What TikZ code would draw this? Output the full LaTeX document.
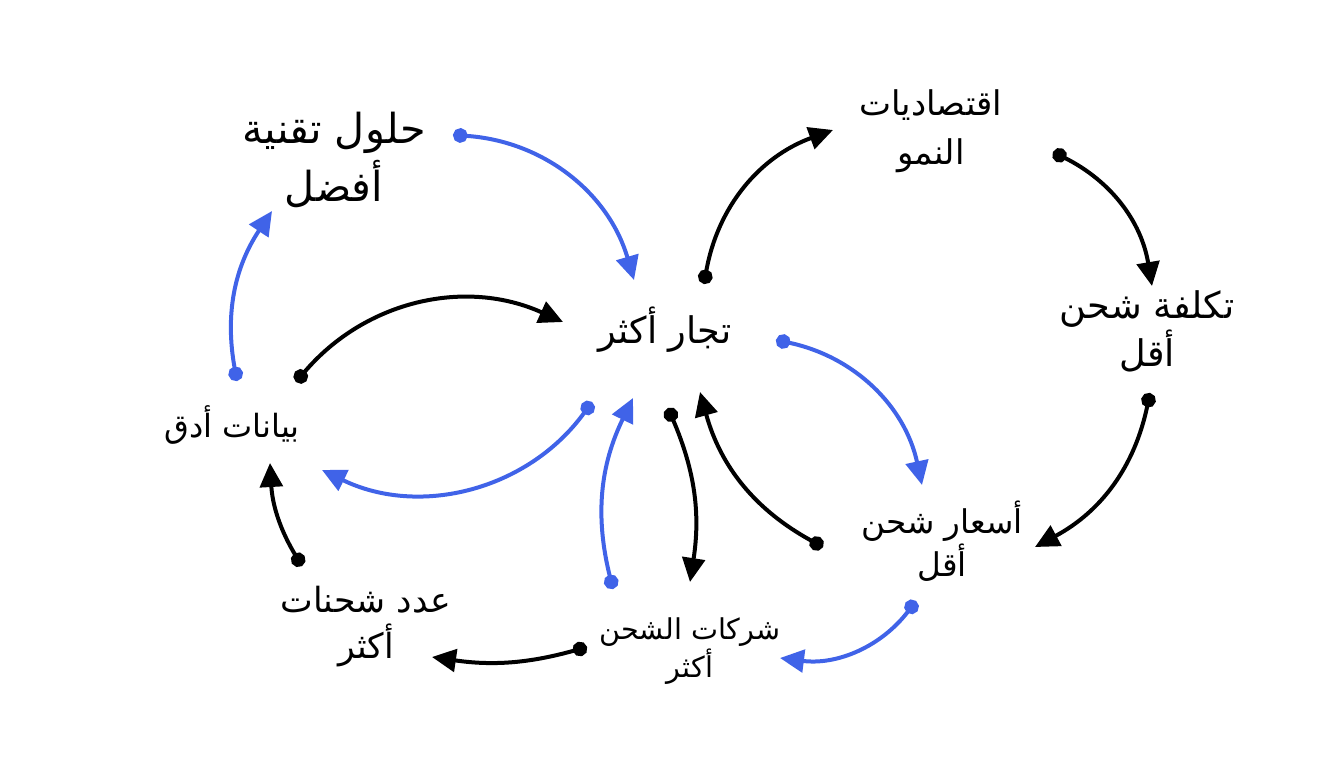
\documentclass[tikz,border=0pt]{standalone}
\usepackage{fontspec}
\usetikzlibrary{arrows.meta}
\TeXXeTstate=1
\newfontfamily\arabicfont[Script=Arabic]{DejaVu Sans}
\newcommand{\artxt}[1]{\beginR #1\endR}
\definecolor{cblue}{RGB}{64,99,232}
\begin{document}
\begin{tikzpicture}[x=0.75pt,y=-0.75pt,
  lbl/.style 2 args={align=center, inner sep=0pt, font=\arabicfont\fontsize{#1}{#2}\selectfont},
  link/.style={line width=3pt, arrows={Circle[length=11pt]-Triangle[length=18pt,width=17pt]}, bend left=#1},
  blk/.style={draw=black},
  blu/.style={draw=cblue}]
\useasboundingbox (0,0) rectangle (1321,778);
% labels
\node[lbl={31}{43}] (tech) at (334,160) {\artxt{حلول تقنية}\\\artxt{أفضل}};
\node[lbl={25.5}{37}] (econ) at (931,131) {\artxt{اقتصاديات}\\\artxt{النمو}};
\node[lbl={27.5}{34}] (trad) at (665,330) {\artxt{تجار أكثر}};
\node[lbl={27.5}{36}] (cost) at (1147,331) {\artxt{تكلفة شحن}\\\artxt{أقل}};
\node[lbl={24}{30}] (data) at (232,425) {\artxt{بيانات أدق}};
\node[lbl={24.5}{32}] (pric) at (942,541) {\artxt{أسعار شحن}\\\artxt{أقل}};
\node[lbl={26}{34.5}] (ship) at (366,627) {\artxt{عدد شحنات}\\\artxt{أكثر}};
\node[lbl={21.5}{29}] (firm) at (690,651) {\artxt{شركات الشحن}\\\artxt{أكثر}};
% endpoints
\coordinate (a1s) at (453,135);  \coordinate (a1e) at (634,280);
\coordinate (a2s) at (704,284);  \coordinate (a2e) at (833,130);
\coordinate (a3s) at (1053,152); \coordinate (a3e) at (1152,286);
\coordinate (a4s) at (1150,393); \coordinate (a4e) at (1035,547);
\coordinate (a5s) at (776,340);  \coordinate (a5e) at (922,485);
\coordinate (a6s) at (823,547);  \coordinate (a6e) at (700,392);
\coordinate (a7s) at (916,601);  \coordinate (a7e) at (780,658);
\coordinate (a8s) at (668,408);  \coordinate (a8e) at (690,582);
\coordinate (a9s) at (613,589);  \coordinate (a9e) at (633,398);
\coordinate (a10s) at (592,402); \coordinate (a10e) at (322,470);
\coordinate (a11s) at (587,647); \coordinate (a11e) at (432,657);
\coordinate (a12s) at (302,566); \coordinate (a12e) at (270,463);
\coordinate (a13s) at (237,381); \coordinate (a13e) at (272,211);
\coordinate (a14s) at (296,382); \coordinate (a14e) at (563,322);
% connectors
\draw[blu,link=35] (a1s) to (a1e);
\draw[blk,link=30] (a2s) to (a2e);
\draw[blk,link=27] (a3s) to (a3e);
\draw[blk,link=25] (a4s) to (a4e);
\draw[blu,link=33] (a5s) to (a5e);
\draw[blk,link=23] (a6s) to (a6e);
\draw[blu,link=30] (a7s) to (a7e);
\draw[blk,link=16] (a8s) to (a8e);
\draw[blu,link=20] (a9s) to (a9e);
\draw[blu,link=40] (a10s) to (a10e);
\draw[blk,link=12] (a11s) to (a11e);
\draw[blk,link=14] (a12s) to (a12e);
\draw[blu,link=22] (a13s) to (a13e);
\draw[blk,link=37] (a14s) to (a14e);
\end{tikzpicture}
\end{document}
